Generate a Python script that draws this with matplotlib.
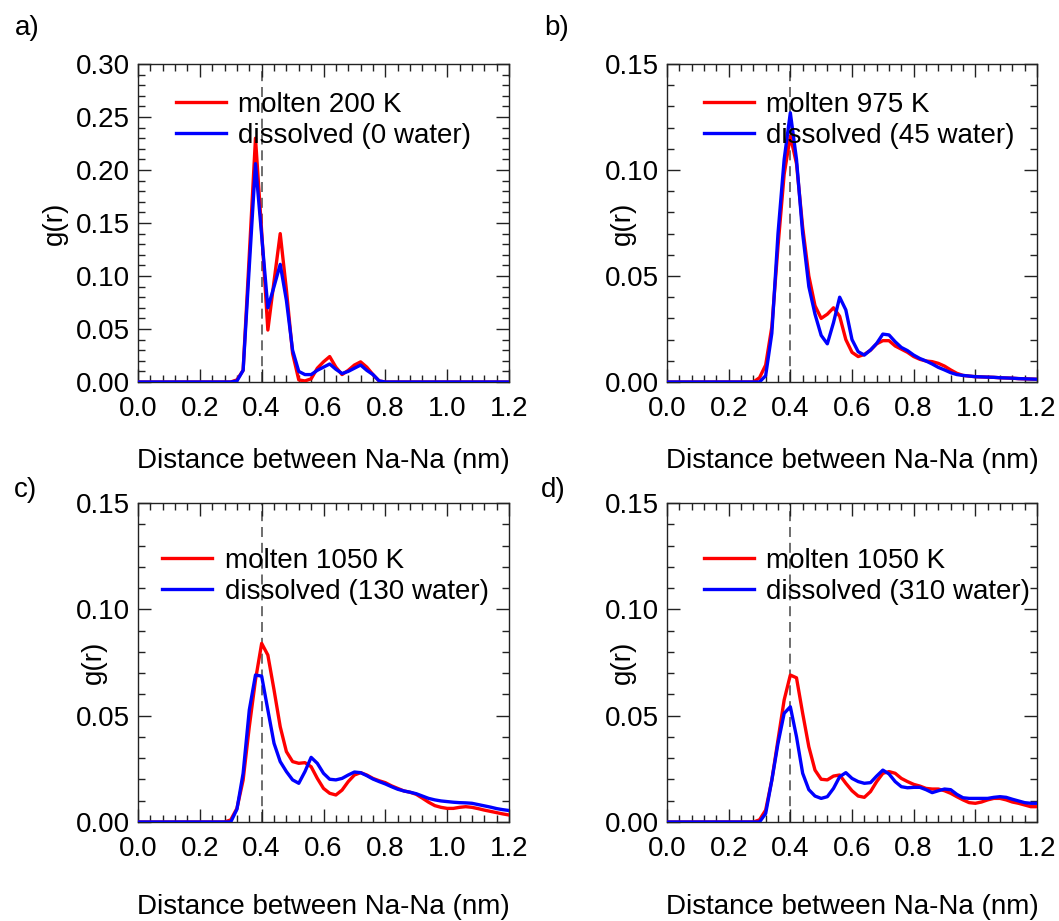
import numpy as np
import matplotlib.pyplot as plt
from matplotlib.ticker import MultipleLocator

plt.rcParams['font.family'] = ['Liberation Sans', 'DejaVu Sans']
plt.rcParams['font.size'] = 20

# distance grid (nm)
r = [0.00, 0.28, 0.30, 0.32, 0.34, 0.36, 0.38, 0.40, 0.42, 0.44, 0.46, 0.48,
     0.50, 0.52, 0.54, 0.56, 0.58, 0.60, 0.62, 0.64, 0.66, 0.68, 0.70, 0.72,
     0.74, 0.76, 0.78, 0.80, 0.82, 0.84, 0.86, 0.88, 0.90, 0.92, 0.94, 0.96,
     0.98, 1.00, 1.02, 1.04, 1.06, 1.08, 1.10, 1.12, 1.14, 1.16, 1.18, 1.20]

# a) molten 200 K / dissolved (0 water)
molten_a = [0, 0, 0, 0.002, 0.011, 0.120, 0.230, 0.142, 0.049, 0.095, 0.140, 0.087,
            0.027, 0.002, 0.001, 0.003, 0.013, 0.019, 0.024, 0.014, 0.007, 0.011, 0.016, 0.019,
            0.014, 0.007, 0.001, 0, 0, 0, 0, 0, 0, 0, 0, 0,
            0, 0, 0, 0, 0, 0, 0, 0, 0, 0, 0, 0]
dissolved_a = [0, 0, 0, 0.001, 0.011, 0.109, 0.206, 0.138, 0.070, 0.090, 0.111, 0.077,
               0.030, 0.010, 0.007, 0.007, 0.011, 0.014, 0.017, 0.012, 0.008, 0.010, 0.013, 0.016,
               0.011, 0.007, 0.001, 0, 0, 0, 0, 0, 0, 0, 0, 0,
               0, 0, 0, 0, 0, 0, 0, 0, 0, 0, 0, 0]

# b) molten 975 K / dissolved (45 water)
molten_b = [0, 0, 0.002, 0.008, 0.026, 0.064, 0.098, 0.116, 0.103, 0.073, 0.050, 0.036,
            0.030, 0.032, 0.035, 0.031, 0.020, 0.014, 0.012, 0.013, 0.015, 0.018, 0.0195, 0.0195,
            0.017, 0.0155, 0.014, 0.012, 0.0107, 0.0099, 0.0096, 0.0088, 0.0075, 0.0057, 0.0041, 0.0031,
            0.0028, 0.0025, 0.0024, 0.0023, 0.0022, 0.0020, 0.0019, 0.0018, 0.0016, 0.0015, 0.0014, 0.0013]
dissolved_b = [0, 0, 0, 0.003, 0.023, 0.070, 0.105, 0.127, 0.105, 0.070, 0.045, 0.032,
               0.022, 0.018, 0.028, 0.040, 0.034, 0.020, 0.0143, 0.0127, 0.0151, 0.0182, 0.0226, 0.0222,
               0.0190, 0.0163, 0.0148, 0.0127, 0.0111, 0.0099, 0.0085, 0.0069, 0.0057, 0.0044, 0.0035, 0.0031,
               0.0028, 0.0025, 0.0024, 0.0023, 0.0022, 0.0020, 0.0019, 0.0018, 0.0016, 0.0015, 0.0014, 0.0013]

# c) molten 1050 K / dissolved (130 water)
molten_c = [0, 0, 0.001, 0.0064, 0.0197, 0.0448, 0.0668, 0.0840, 0.0785, 0.0621, 0.0448, 0.0331,
            0.0284, 0.0276, 0.0279, 0.0260, 0.0205, 0.0158, 0.0135, 0.0127, 0.0150, 0.0190, 0.0221, 0.0232,
            0.0221, 0.0205, 0.0194, 0.0185, 0.0170, 0.0158, 0.0146, 0.0140, 0.0130, 0.0112, 0.0093, 0.0077,
            0.0069, 0.0064, 0.0064, 0.0069, 0.0072, 0.0069, 0.0063, 0.0056, 0.0050, 0.0044, 0.0038, 0.0033]
dissolved_c = [0, 0, 0, 0.0060, 0.0229, 0.0527, 0.0691, 0.0686, 0.0527, 0.0370, 0.0284, 0.0237,
               0.0198, 0.0182, 0.0237, 0.0304, 0.0276, 0.0229, 0.0201, 0.0198, 0.0205, 0.0221, 0.0235, 0.0232,
               0.0218, 0.0202, 0.0190, 0.0179, 0.0166, 0.0154, 0.0146, 0.0140, 0.0133, 0.0122, 0.0111, 0.0104,
               0.0099, 0.0096, 0.0093, 0.0091, 0.0090, 0.0088, 0.0082, 0.0076, 0.0070, 0.0063, 0.0058, 0.0054]

# d) molten 1050 K / dissolved (310 water)
molten_d = [0, 0, 0.001, 0.0056, 0.0197, 0.0386, 0.0574, 0.0691, 0.0678, 0.0511, 0.0354, 0.0244,
            0.0201, 0.0198, 0.0216, 0.0221, 0.0182, 0.0147, 0.0122, 0.0116, 0.0143, 0.0190, 0.0229, 0.0237,
            0.0229, 0.0205, 0.0190, 0.0177, 0.0169, 0.0158, 0.0155, 0.0155, 0.0147, 0.0135, 0.0119, 0.0104,
            0.0091, 0.0088, 0.0094, 0.0104, 0.0111, 0.0111, 0.0104, 0.0094, 0.0088, 0.0080, 0.0072, 0.0072]
dissolved_d = [0, 0, 0, 0.004, 0.0197, 0.0370, 0.0511, 0.0542, 0.0401, 0.0229, 0.0152, 0.0122,
               0.0111, 0.0119, 0.0158, 0.0213, 0.0232, 0.0205, 0.0190, 0.0182, 0.0185, 0.0216, 0.0244, 0.0226,
               0.0190, 0.0166, 0.0161, 0.0163, 0.0163, 0.0152, 0.0138, 0.0147, 0.0155, 0.0152, 0.0130, 0.0114,
               0.0111, 0.0111, 0.0111, 0.0111, 0.0116, 0.0119, 0.0116, 0.0107, 0.0099, 0.0091, 0.0088, 0.0088]

panel_tags = ['a)', 'b)', 'c)', 'd)']
molten_labels = ['molten 200 K', 'molten 975 K', 'molten 1050 K', 'molten 1050 K']
dissolved_labels = ['dissolved (0 water)', 'dissolved (45 water)',
                    'dissolved (130 water)', 'dissolved (310 water)']
y_max = [0.30, 0.15, 0.15, 0.15]

molten = [molten_a, molten_b, molten_c, molten_d]
dissolved = [dissolved_a, dissolved_b, dissolved_c, dissolved_d]

W, H = 1059, 921
fig = plt.figure(figsize=(W / 100, H / 100), dpi=100)

# axes boxes in pixels: left, top, right, bottom
boxes = [(138, 64, 509, 382), (667, 64, 1037, 382),
         (138, 503, 509, 822), (667, 503, 1037, 822)]
legend_pos = [(0.102, 0.913), (0.100, 0.913), (0.065, 0.860), (0.100, 0.860)]
tag_pos = [(15, 15), (544, 15), (14, 477), (541, 477)]
xlabel_y = [-0.208, -0.208, -0.225, -0.225]
ylabel_x = [-0.19, -0.083, -0.083, -0.083]

for i in range(4):
    l, t, rr, b = boxes[i]
    ax = fig.add_axes([l / W, 1 - b / H, (rr - l) / W, (b - t) / H])

    ax.axvline(0.4, color='#555555', lw=1.2, linestyle=(0, (6, 3.5)), zorder=1)
    ax.plot(r, molten[i], color='#ff0000', lw=2.4, label=molten_labels[i], zorder=3)
    ax.plot(r, dissolved[i], color='#0000ff', lw=2.4, label=dissolved_labels[i], zorder=4)

    ax.set_xlim(0, 1.2)
    ax.set_ylim(0, y_max[i])
    ax.xaxis.set_major_locator(MultipleLocator(0.2))
    ax.xaxis.set_minor_locator(MultipleLocator(0.04))
    ax.yaxis.set_major_locator(MultipleLocator(0.05))
    ax.yaxis.set_minor_locator(MultipleLocator(0.01))
    ax.xaxis.set_major_formatter('{x:.1f}')
    ax.yaxis.set_major_formatter('{x:.2f}')

    ax.tick_params(which='both', direction='in', top=True, right=True,
                   color='#222222', width=1.0, labelsize=20)
    ax.tick_params(which='major', length=9.5)
    ax.tick_params(which='minor', length=5)
    ax.tick_params(axis='x', pad=10)
    ax.tick_params(axis='y', pad=6)
    for s in ax.spines.values():
        s.set_color('#222222')
        s.set_linewidth(1.0)

    ax.set_xlabel('Distance between Na-Na (nm)', fontsize=20)
    ax.set_ylabel('g(r)', fontsize=20)
    ax.xaxis.set_label_coords(0.5, xlabel_y[i])
    ax.yaxis.set_label_coords(ylabel_x[i], 0.5)

    ax.legend(loc='upper left', bbox_to_anchor=legend_pos[i], frameon=False,
              fontsize=20, handlelength=1.8, handletextpad=0.45,
              labelspacing=0.19, borderpad=0, borderaxespad=0)

    fig.text(tag_pos[i][0] / W, 1 - tag_pos[i][1] / H, panel_tags[i],
             fontsize=20, ha='left', va='top')

fig.savefig('out.png', dpi=100)
